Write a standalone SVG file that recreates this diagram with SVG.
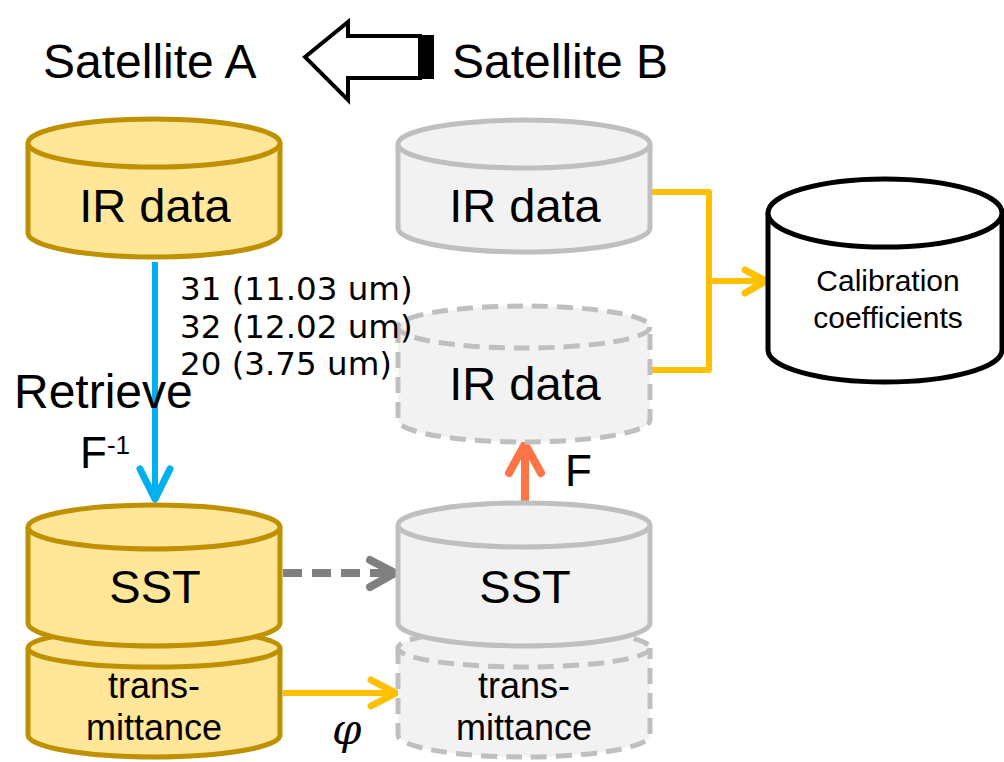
<svg xmlns="http://www.w3.org/2000/svg" width="1004" height="762" viewBox="0 0 1004 762">
<style>
.t{font-family:"Liberation Sans",Arial,sans-serif;fill:#000}
.big{font-size:47px}
.sat{font-size:48px}
.mid{font-size:36px}
.cal{font-size:30px}
.ch{font-family:"DejaVu Sans",Verdana,sans-serif;font-size:32.5px;fill:#000}
.gold{fill:#FFE699;stroke:#BF9000;stroke-width:5}
.grey{fill:#F2F2F2;stroke:#BFBFBF;stroke-width:5}
.greyd{fill:#F2F2F2;stroke:#BFBFBF;stroke-width:5;stroke-dasharray:16 9}
.blk{fill:#fff;stroke:#000;stroke-width:5}
.c{fill:none;stroke-linecap:round;stroke-linejoin:round}
</style>
<rect width="1004" height="762" fill="#fff"/>

<g id="satA"><text class="t sat" x="43" y="78">Satellite A</text></g>
<g id="satB"><text class="t sat" x="452" y="78">Satellite B</text></g>
<g id="bigArrow">
<polygon points="305,57 348,22 348,36 420,36 420,78 348,78 348,100" fill="#fff" stroke="#000" stroke-width="4" stroke-linejoin="miter"/>
<rect x="420" y="35" width="14" height="44" fill="#000"/>
</g>

<g id="connectors">
<line x1="155" y1="262" x2="155" y2="497" stroke="#00B0F0" stroke-width="6"/>
<path class="c" d="M140,469 L155,499 L170,469" stroke="#00B0F0" stroke-width="7"/>
<line x1="525" y1="503" x2="525" y2="447" stroke="#FF7446" stroke-width="8"/>
<path class="c" d="M509,473 L525,444 L541,473" stroke="#FF7446" stroke-width="8"/>
<line x1="283" y1="573" x2="392" y2="573" stroke="#808080" stroke-width="8" stroke-dasharray="19 10"/>
<path class="c" d="M370,560 L395,573 L370,587" stroke="#808080" stroke-width="8"/>
<line x1="283" y1="693" x2="394" y2="693" stroke="#FFC000" stroke-width="6"/>
<path class="c" d="M371,680 L396,693 L371,706" stroke="#FFC000" stroke-width="7"/>
<polyline class="c" points="652,192 709,192 709,370 652,370" stroke="#FFC000" stroke-width="6"/>
<line x1="709" y1="281" x2="764" y2="281" stroke="#FFC000" stroke-width="6"/>
<path class="c" d="M745,270 L766,281 L745,293" stroke="#FFC000" stroke-width="7"/>
</g>

<g id="irA">
<path class="gold" d="M28,143 L28,233 A126,24 0 0 0 280,233 L280,143"/>
<ellipse class="gold" cx="154" cy="143" rx="126" ry="24"/>
<text class="t big" x="155" y="222" text-anchor="middle">IR data</text>
</g>

<g id="irB">
<path class="grey" d="M398,144 L398,228 A126,24 0 0 0 650,228 L650,144"/>
<ellipse class="grey" cx="524" cy="144" rx="126" ry="24"/>
<text class="t big" x="525" y="222" text-anchor="middle">IR data</text>
</g>

<g id="irSim">
<path class="greyd" d="M398,327 L398,420 A126,22 0 0 0 650,420 L650,327"/>
<ellipse class="greyd" cx="524" cy="327" rx="126" ry="21"/>
<text class="t big" x="525" y="400" text-anchor="middle">IR data</text>
</g>

<g id="calib">
<path class="blk" d="M768,213 L768,350 A117,32 0 0 0 1002,350 L1002,213"/>
<ellipse class="blk" cx="885" cy="213" rx="117" ry="34"/>
<text class="t cal" x="888" y="291" text-anchor="middle">Calibration</text>
<text class="t cal" x="888" y="328" text-anchor="middle">coefficients</text>
</g>

<g id="transA">
<path class="gold" d="M28,648 L28,735 A126,22 0 0 0 280,735 L280,648"/>
<ellipse class="gold" cx="154" cy="648" rx="126" ry="19"/>
<text class="t mid" x="154" y="698" text-anchor="middle">trans-</text>
<text class="t mid" x="154" y="740" text-anchor="middle">mittance</text>
</g>

<g id="sstA">
<path class="gold" d="M28,527 L28,623 A126,23 0 0 0 280,623 L280,527"/>
<ellipse class="gold" cx="154" cy="527" rx="126" ry="22"/>
<text class="t big" x="155" y="603" text-anchor="middle">SST</text>
</g>

<g id="transB">
<path class="greyd" d="M398,648 L398,735 A126,22 0 0 0 650,735 L650,648"/>
<ellipse class="greyd" cx="524" cy="648" rx="126" ry="19"/>
<text class="t mid" x="524" y="698" text-anchor="middle">trans-</text>
<text class="t mid" x="524" y="740" text-anchor="middle">mittance</text>
</g>

<g id="sstB">
<path class="grey" d="M398,525 L398,623 A126,23 0 0 0 650,623 L650,525"/>
<ellipse class="grey" cx="524" cy="525" rx="126" ry="22"/>
<text class="t big" x="525" y="603" text-anchor="middle">SST</text>
</g>

<g id="labels">
<text class="ch" x="180" y="300">31 (11.03 um)</text>
<text class="ch" x="180" y="338">32 (12.02 um)</text>
<text class="ch" x="180" y="375">20 (3.75 um)</text>
<text class="t sat" x="14" y="408">Retrieve</text>
<text class="t" x="80" y="468" font-size="44">F<tspan font-size="26" dy="-14">-1</tspan></text>
<text class="t" x="565" y="486" font-size="44">F</text>
<text x="332" y="744" font-family="'DejaVu Serif','Liberation Serif',serif" font-style="italic" font-size="42">φ</text>
</g>
</svg>
